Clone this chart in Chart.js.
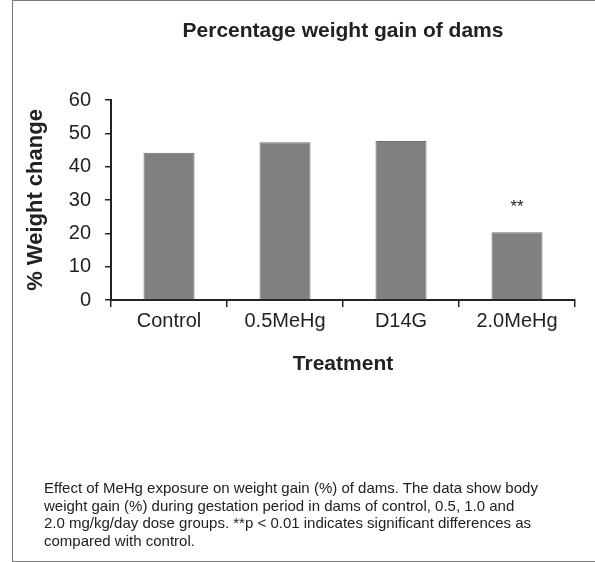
<!DOCTYPE html>
<html>
<head>
<meta charset="utf-8">
<script src="https://cdn.jsdelivr.net/npm/chart.js@4.4.1/dist/chart.umd.min.js"></script>
<style>
    html, body { margin: 0; padding: 0; background: #fff; }
    #page { position: relative; width: 595px; height: 562px; overflow: hidden; }
    #frame {
        position: absolute; left: 12px; top: 0; width: 600px; height: 560px;
        border: 1px solid #777; border-right: none;
    }
    #chart { position: absolute; left: 0; top: 0; }
    #caption {
        position: absolute; left: 44px; top: 479px;
        font-family: "Liberation Sans", Arial, sans-serif;
        font-size: 15px; line-height: 17.5px; color: #222;
        white-space: nowrap;
    }
</style>
</head>
<body>
<div id="page">
    <div id="frame"></div>
    <canvas id="chart" width="595" height="562"></canvas>
    <div id="caption"></div>
</div>
<script>
// Data
const treatments = ['Control', '0.5MeHg', 'D14G', '2.0MeHg'];
const weightChange = [44.2, 47.3, 47.7, 20.3];
const significance = ['', '', '', '**'];
const yTicks = [0, 10, 20, 30, 40, 50, 60];
const captionLines = [
    'Effect of MeHg exposure on weight gain (%) of dams. The data show body',
    'weight gain (%) during gestation period in dams of control, 0.5, 1.0 and',
    '2.0 mg/kg/day dose groups. **p < 0.01 indicates significant differences as',
    'compared with control.'
];

const textColor = '#222';
const fontFamily = '"Liberation Sans", Arial, sans-serif';

document.getElementById('caption').innerHTML = captionLines.join('<br>');

// draws the ** marks above the bars
const starsPlugin = {
    id: 'stars',
    afterDatasetsDraw(chart) {
        const ctx = chart.ctx;
        const meta = chart.getDatasetMeta(0);
        ctx.save();
        ctx.fillStyle = textColor;
        ctx.font = '17px ' + fontFamily;
        ctx.textAlign = 'center';
        ctx.textBaseline = 'middle';
        meta.data.forEach((bar, i) => {
            if (significance[i]) {
                ctx.fillText(significance[i], bar.x, bar.y - 25);
            }
        });
        ctx.restore();
    }
};

const ctx = document.getElementById('chart').getContext('2d');
new Chart(ctx, {
    type: 'bar',
    data: {
        labels: treatments,
        datasets: [{
            data: weightChange,
            backgroundColor: '#808083',
            borderColor: '#6e6e71',
            borderWidth: 1,
            barPercentage: 1,
            categoryPercentage: 0.44
        }]
    },
    options: {
        responsive: false,
        animation: false,
        layout: {
            padding: { top: 0, left: 22.8, right: 20, bottom: 184.8 }
        },
        plugins: {
            legend: { display: false },
            tooltip: { enabled: false },
            title: {
                display: true,
                fullSize: false,
                text: 'Percentage weight gain of dams',
                color: textColor,
                font: { family: fontFamily, size: 21, weight: 'bold' },
                padding: { top: 19, bottom: 55.8 }
            }
        },
        scales: {
            x: {
                grid: {
                    display: true,
                    drawOnChartArea: false,
                    drawTicks: true,
                    tickLength: 7,
                    color: textColor,
                    lineWidth: 1.5
                },
                border: { display: true, color: textColor, width: 2 },
                ticks: {
                    color: textColor,
                    padding: 2,
                    font: { family: fontFamily, size: 20 }
                },
                title: {
                    display: true,
                    text: 'Treatment',
                    color: textColor,
                    font: { family: fontFamily, size: 21, weight: 'bold' },
                    padding: { top: 17, bottom: 0 }
                }
            },
            y: {
                min: yTicks[0],
                max: yTicks[yTicks.length - 1],
                afterBuildTicks(scale) {
                    scale.ticks = yTicks.map(v => ({ value: v }));
                },
                grid: {
                    display: true,
                    drawOnChartArea: false,
                    drawTicks: true,
                    tickLength: 6,
                    color: textColor,
                    lineWidth: 1.5
                },
                border: { display: true, color: textColor, width: 2 },
                ticks: {
                    color: textColor,
                    padding: 14,
                    font: { family: fontFamily, size: 20 }
                },
                title: {
                    display: true,
                    text: '% Weight change',
                    color: textColor,
                    font: { family: fontFamily, size: 22, weight: 'bold' },
                    padding: { top: 0, bottom: 5.6 }
                }
            }
        }
    },
    plugins: [starsPlugin]
});
</script>
</body>
</html>
